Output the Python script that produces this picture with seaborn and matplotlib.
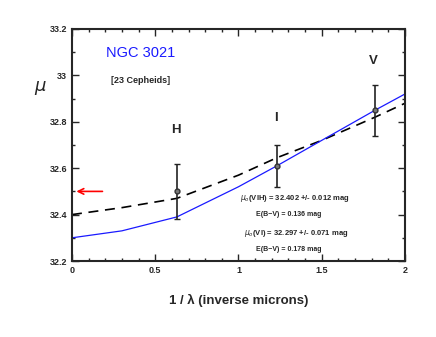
import numpy as np
import pandas as pd
import matplotlib
matplotlib.use('Agg')
import matplotlib.pyplot as plt
import seaborn as sns

# Cepheid distance moduli per band
bands = ['H', 'I', 'V']
inv_lambda = [0.63, 1.23, 1.82]
mu_obs = [32.50, 32.61, 32.85]
mu_err = [0.12, 0.09, 0.11]

# extinction model curves (VIH fit dashed, VI fit solid blue)
curve_x = [0.0, 0.3, 0.63, 1.0, 1.23, 1.5, 1.82, 2.0]
curve_vih = [32.40, 32.43, 32.47, 32.57, 32.645, 32.72, 32.82, 32.88]
curve_vi = [32.30, 32.33, 32.39, 32.52, 32.61, 32.72, 32.85, 32.92]

sns.set_style('ticks')
plt.rcParams['font.family'] = ['Liberation Sans', 'DejaVu Sans']

fig = plt.figure(figsize=(4.36, 3.37), dpi=100)
ax = fig.add_axes([0.165, 0.2255, 0.764, 0.6885])

curves = pd.DataFrame({'x': curve_x, 'vih': curve_vih, 'vi': curve_vi})
sns.lineplot(data=curves, x='x', y='vih', ax=ax, color='black', lw=1.2,
             linestyle=(0, (6, 4)))
sns.lineplot(data=curves, x='x', y='vi', ax=ax, color='#1a1aff', lw=0.9)

ax.errorbar(inv_lambda, mu_obs, yerr=mu_err, fmt='o', ms=3.5, color='#333333',
            mfc='#777777', mec='#333333', ecolor='#222222', elinewidth=1.2,
            capsize=2.5, capthick=1.0)

for b, xx, yy in zip(bands, [0.625, 1.225, 1.81], [32.765, 32.816, 33.06]):
    ax.text(xx, yy, b, ha='center', va='center', fontsize=9.5,
            fontweight='bold')

ax.annotate('', xy=(0.01, 32.5), xytext=(0.2, 32.5),
            arrowprops=dict(arrowstyle='->', color='red', lw=1.2))

ax.text(0.41, 33.097, 'NGC 3021', color='#1a1aff', fontsize=10.5,
        ha='center', va='center')
ax.text(0.41, 32.98, '[23 Cepheids]', fontsize=6.5, ha='center', va='center',
        fontweight='bold')

ax.text(1.34, 32.47, r'$\mu_o$(VIH) = 32.402 +/- 0.012 mag', fontsize=5.5,
        ha='center', va='center', fontweight='bold')
ax.text(1.30, 32.40, 'E(B\u2212V) = 0.136 mag', fontsize=5,
        ha='center', va='center', fontweight='bold')
ax.text(1.345, 32.32, r'$\mu_o$(VI) = 32.297 +/- 0.071 mag', fontsize=5.5,
        ha='center', va='center', fontweight='bold')
ax.text(1.30, 32.25, 'E(B\u2212V) = 0.178 mag', fontsize=5,
        ha='center', va='center', fontweight='bold')

ax.set_xlim(0, 2)
ax.set_ylim(32.2, 33.2)
ax.set_xticks([0, 0.5, 1, 1.5, 2])
ax.set_xticklabels(['0', '0.5', '1', '1.5', '2'])
ax.set_xticks(np.arange(0, 2.01, 0.1), minor=True)
ax.set_yticks([32.2, 32.4, 32.6, 32.8, 33.0, 33.2])
ax.set_yticklabels(['32.2', '32.4', '32.6', '32.8', '33', '33.2'])
ax.set_yticks(np.arange(32.2, 33.21, 0.1), minor=True)
ax.tick_params(which='both', direction='in', top=True, right=True,
               labelsize=6.5, width=1.0)
ax.tick_params(which='major', length=5)
ax.tick_params(which='minor', length=2.5)
for lab in ax.get_xticklabels() + ax.get_yticklabels():
    lab.set_fontweight('bold')
for sp in ax.spines.values():
    sp.set_linewidth(1.5)

ax.set_xlabel('1 / \u03bb (inverse microns)', fontsize=9.5, labelpad=14,
              fontweight='bold')
ax.set_ylabel(r'$\mu$', fontsize=13, rotation=0)
ax.yaxis.set_label_coords(-0.096, 0.707)

fig.savefig('out.png', dpi=100)
